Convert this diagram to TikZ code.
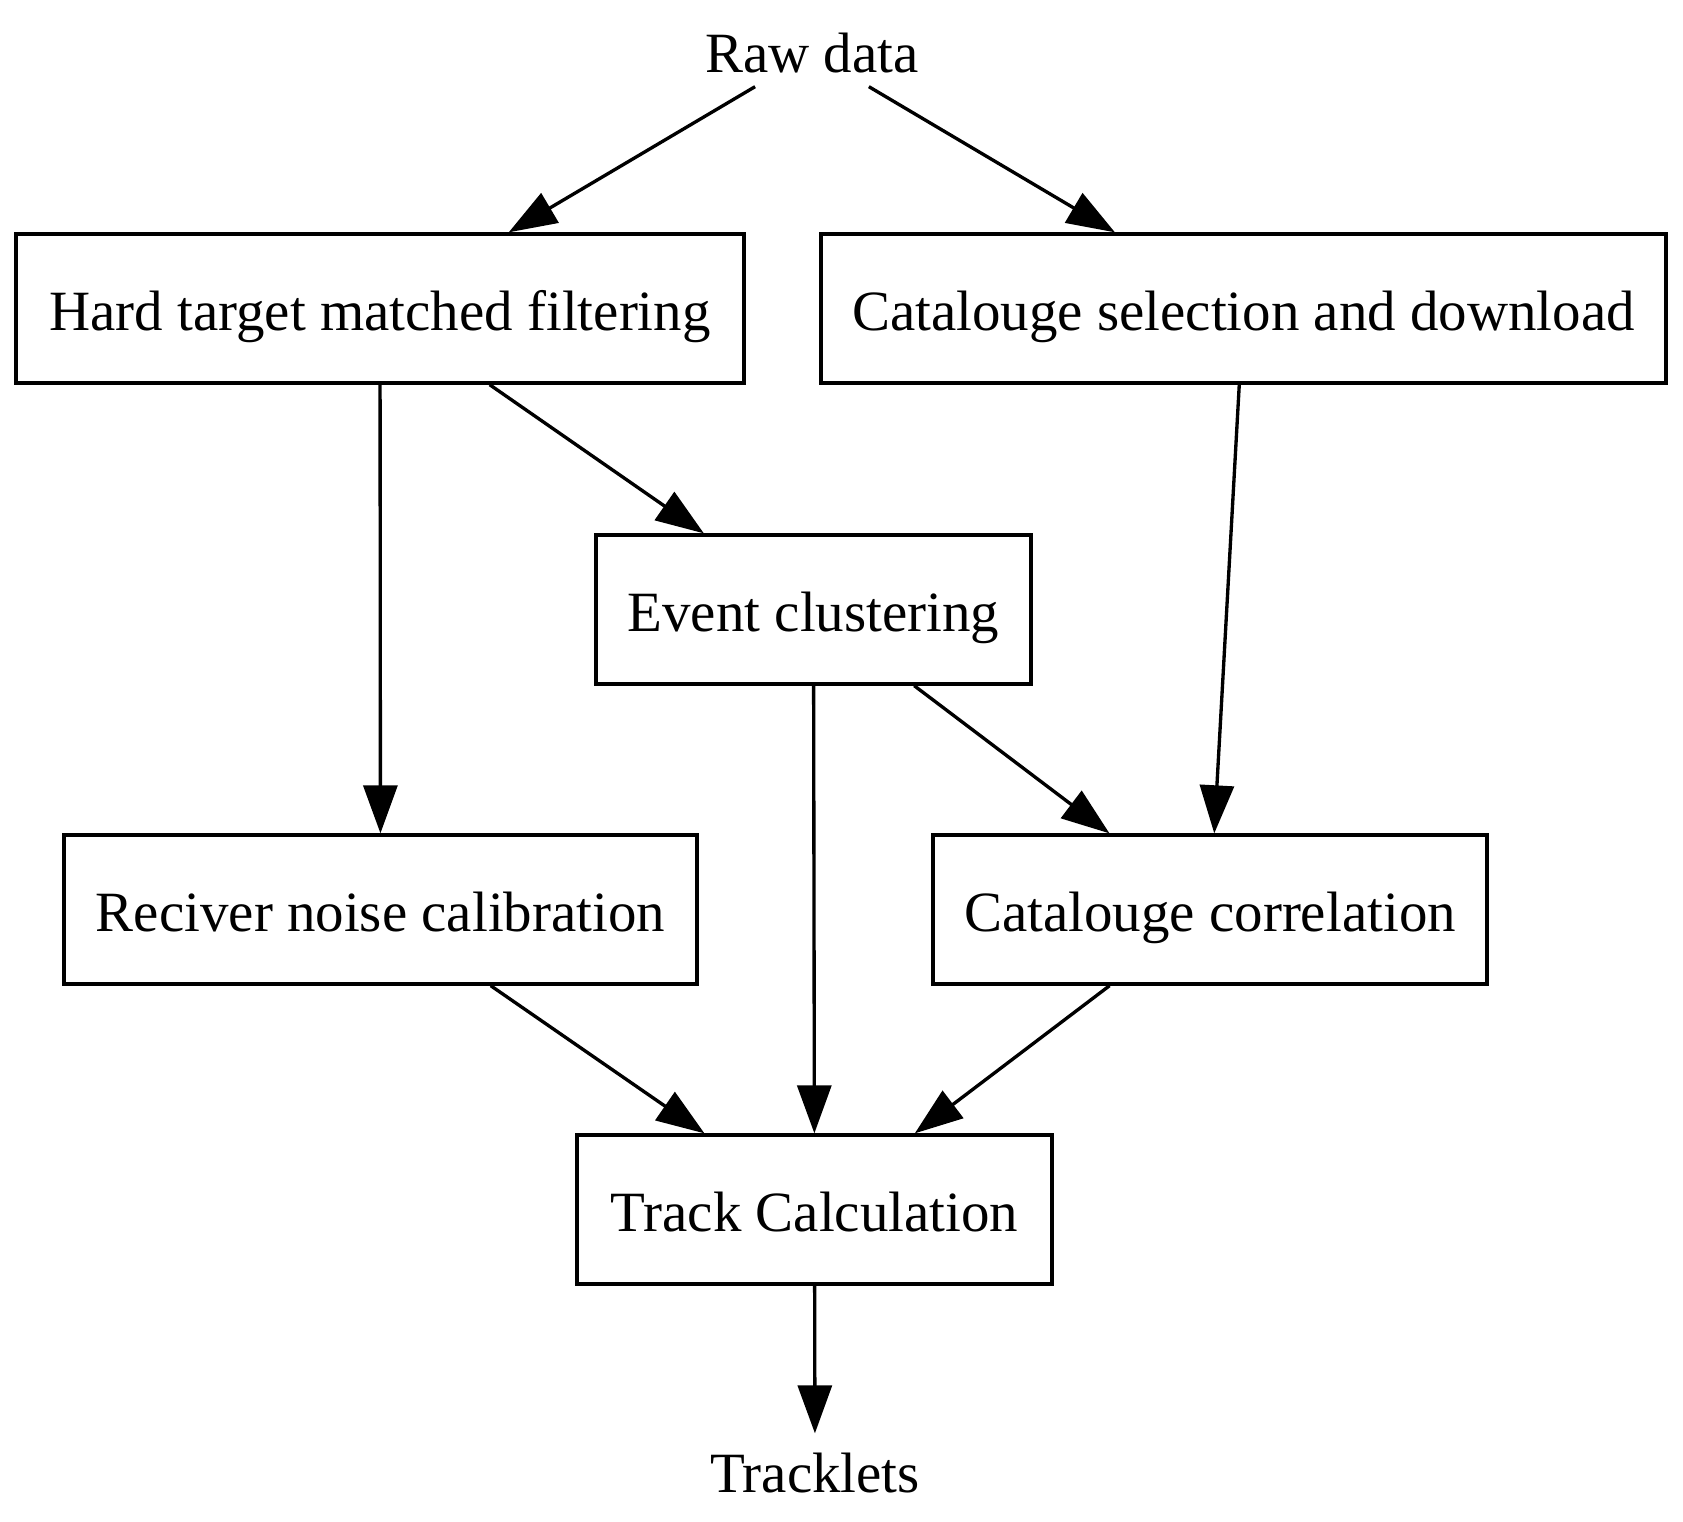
\documentclass[tikz,border=0pt]{standalone}
\usepackage{fontspec}
\setmainfont{Liberation Serif}
\usetikzlibrary{arrows.meta}
\begin{document}
\begin{tikzpicture}[>={Triangle[length=0.48cm,width=0.34cm]}, line width=0.95pt,
		box/.style={draw, rectangle, minimum height=1.49cm, inner sep=0pt, text height=12.3pt, text depth=0pt}]
		\useasboundingbox (0,0) rectangle (16.83,-15.21);
		\begin{scope}[every node/.append style={font=\fontsize{16.2}{19}\selectfont}]
			\node[inner sep=0pt, minimum height=0.64cm] (0) at (8.12, -0.53) {Raw data};
			\node[box, minimum width=7.28cm] (1) at (3.80, -3.085) {Hard target matched filtering};
			\node[box, minimum width=8.45cm] (2) at (12.435, -3.085) {Catalouge selection and download};
			\node[box, minimum width=4.35cm] (3) at (8.135, -6.095) {Event clustering};
			\node[box, minimum width=6.33cm] (4) at (3.805, -9.095) {Reciver noise calibration};
			\node[box, minimum width=5.54cm] (5) at (12.10, -9.095) {Catalouge correlation};
			\node[box, minimum width=4.75cm] (6) at (8.145, -12.095) {Track Calculation};
			\node[inner sep=0pt, minimum height=0.76cm] (7) at (8.15, -14.73) {Tracklets};
		\end{scope}

		\draw [->] (0) -- (1);
		\draw [->] (0) -- (2);
		\draw [->] (1) -- (4);
		\draw [->] (1) -- (3);
		\draw [->] (2) -- (5);
		\draw [->] (3) -- (6);
		\draw [->] (3) -- (5);
		\draw [->] (4) -- (6);
		\draw [->] (5) -- (6);
		\draw [->] (6) -- (7);
	\end{tikzpicture}
\end{document}
